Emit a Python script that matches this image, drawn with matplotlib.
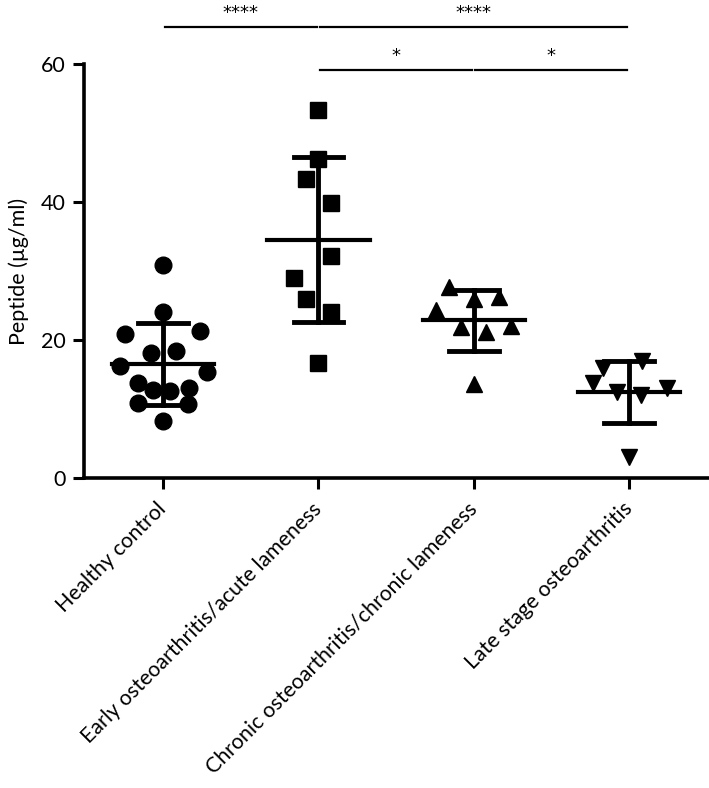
import numpy as np
import matplotlib
matplotlib.use("Agg")
import matplotlib.pyplot as plt

plt.rcParams["font.family"] = ["Lato", "DejaVu Sans"]

# groups and peptide values (ug/ml)
groups = ["Healthy control",
          "Early osteoarthritis/acute lameness",
          "Chronic osteoarthritis/chronic lameness",
          "Late stage osteoarthritis"]

healthy = [30.9, 24.1, 20.9, 21.3, 18.1, 18.4, 16.2, 15.3, 13.7, 12.75,
           12.6, 13.1, 10.8, 10.7, 8.3]
early = [53.3, 46.3, 43.4, 39.9, 32.2, 29.0, 25.9, 24.0, 16.6]
chronic = [27.7, 25.9, 26.2, 24.4, 21.9, 21.2, 22.0, 13.6]
late = [16.9, 15.9, 13.8, 12.4, 12.1, 13.0, 3.0]

# horizontal spread of the dots (scatter layout, in group units)
healthy_dx = [0, 0, -0.245, 0.24, -0.08, 0.085, -0.28, 0.28, -0.16, -0.065,
              0.045, 0.165, -0.16, 0.16, 0]
early_dx = [0, 0, -0.08, 0.08, 0.08, -0.16, -0.08, 0.08, 0]
chronic_dx = [-0.16, 0, 0.16, -0.245, -0.08, 0.08, 0.24, 0]
late_dx = [0.085, -0.165, -0.23, -0.08, 0.08, 0.245, 0]

# significance brackets: (group a, group b, label, level)
sig = [(0, 1, "****", 65.4), (1, 3, "****", 65.4),
       (1, 2, "*", 59.1), (2, 3, "*", 59.1)]

values = [healthy, early, chronic, late]
offsets = [healthy_dx, early_dx, chronic_dx, late_dx]
markers = ["o", "s", "^", "v"]

fig = plt.figure(figsize=(7.09, 7.88), dpi=100)
ax = fig.add_axes([0.1185, 0.3934, 0.8815, 0.5254])

for i, (v, dx, m) in enumerate(zip(values, offsets, markers)):
    v = np.array(v)
    x = i + np.array(dx)
    ax.plot(x, v, m, color="black", markersize=12, linestyle="none", zorder=3)
    mean = v.mean()
    sd = v.std(ddof=1)
    ax.plot([i - 0.33, i + 0.33], [mean, mean], color="black", lw=3, zorder=4)
    ax.plot([i, i], [mean - sd, mean + sd], color="black", lw=3.5, zorder=4)
    ax.plot([i - 0.16, i + 0.16], [mean + sd, mean + sd], color="black", lw=3.5, zorder=4)
    ax.plot([i - 0.16, i + 0.16], [mean - sd, mean - sd], color="black", lw=3.5, zorder=4)

for a, b, lab, yy in sig:
    ax.plot([a + 0.01, b - 0.01], [yy, yy], color="black", lw=1.6, clip_on=False)
    ax.text((a + b) / 2, yy + 0.7, lab, ha="center", va="bottom",
            fontsize=13, family="DejaVu Sans", clip_on=False)

ax.set_xlim(-0.51, 3.515)
ax.set_ylim(0, 60)
ax.set_yticks([0, 20, 40, 60])
ax.set_xticks(range(4))
ax.set_xticklabels(groups, rotation=45, ha="right", va="center",
                   rotation_mode="anchor", fontsize=15.3)
ax.tick_params(axis="both", width=2.2, length=8, color="black")
ax.tick_params(axis="y", pad=5, labelsize=15.5)
ax.tick_params(axis="x", pad=12)
ax.set_ylabel("Peptide (µg/ml)", fontsize=15.5, labelpad=9)

for s in ["top", "right"]:
    ax.spines[s].set_visible(False)
for s in ["left", "bottom"]:
    ax.spines[s].set_linewidth(2.6)

fig.savefig("out.png", dpi=100)
